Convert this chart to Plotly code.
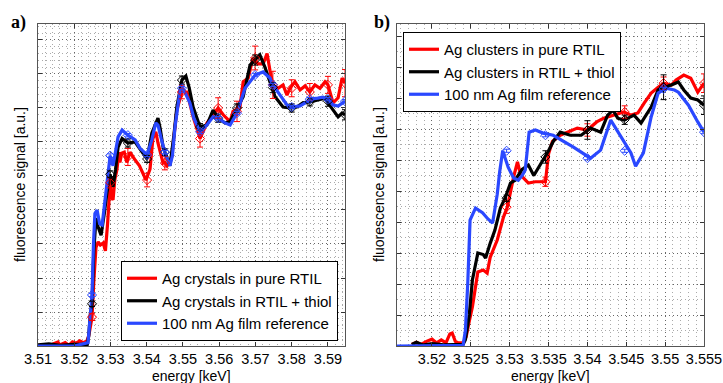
import plotly.graph_objects as go

# ---------------- Panel a) data ----------------
a_blue_e = [3.5100, 3.5200, 3.5238, 3.5243, 3.5249, 3.5253, 3.5257, 3.5263, 3.5270, 3.5277, 3.5285, 3.5290,
            3.5299, 3.5307, 3.5315, 3.5321, 3.5332, 3.5348, 3.5368, 3.5381, 3.5401, 3.5414, 3.5425, 3.5431,
            3.5440, 3.5450, 3.5464, 3.5471, 3.5478, 3.5492, 3.5500, 3.5519, 3.5530, 3.5547, 3.5566, 3.5583,
            3.5597, 3.5616, 3.5630, 3.5649, 3.5671, 3.5699, 3.5721, 3.5740, 3.5748, 3.5768, 3.5787, 3.5801,
            3.5823, 3.5837, 3.5850, 3.5872, 3.5886, 3.5900, 3.5914, 3.5928, 3.5947]
a_blue_v = [0.0, 0.0, 0.1, 0.8, 1.5, 3.0, 3.9, 4.0, 3.6, 3.56, 4.3, 4.8,
            5.6, 5.3, 5.75, 6.15, 6.35, 6.2, 6.06, 5.82, 5.62, 6.06, 6.56, 6.5,
            6.1, 5.7, 5.3, 5.6, 6.44, 7.53, 7.58, 7.15, 6.7, 6.3, 6.5, 6.74,
            6.7, 6.56, 6.5, 6.85, 7.58, 7.97, 8.06, 7.88, 7.68, 7.38, 7.09, 7.03,
            7.06, 7.15, 7.26, 7.29, 7.32, 7.26, 7.09, 7.06, 7.2]

a_black_e = [3.5100, 3.5130, 3.5160, 3.5200, 3.5236, 3.5240, 3.5244, 3.5249, 3.5254, 3.5260, 3.5266, 3.5274,
             3.5283, 3.5290, 3.5299, 3.5307, 3.5314, 3.5321, 3.5332, 3.5348, 3.5368, 3.5381, 3.5401, 3.5414,
             3.5431, 3.5437, 3.5445, 3.5450, 3.5464, 3.5475, 3.5483, 3.5497, 3.5508, 3.5517, 3.5528, 3.5547,
             3.5566, 3.5583, 3.5597, 3.5616, 3.5630, 3.5649, 3.5666, 3.5685, 3.5699, 3.5712, 3.5726, 3.5740,
             3.5754, 3.5776, 3.5795, 3.5814, 3.5831, 3.5850, 3.5872, 3.5892, 3.5900, 3.5914, 3.5928, 3.5939,
             3.5947]
a_black_v = [0.03, 0.06, 0.02, 0.05, 0.05, 0.3, 0.9, 1.24, 2.8, 3.76, 3.5, 3.26,
             3.9, 4.5, 5.05, 4.68, 5.2, 5.85, 6.1, 5.97, 6.0, 5.8, 5.5, 6.26,
             6.7, 6.4, 5.85, 5.7, 5.3, 6.2, 7.03, 7.82, 7.94, 7.6, 7.03, 6.44,
             6.5, 6.94, 6.7, 6.56, 6.6, 7.0, 7.33, 8.26, 8.41, 8.56, 8.2, 7.77,
             7.33, 7.03, 7.0, 7.03, 7.15, 7.18, 7.24, 7.29, 7.15, 6.94, 6.74, 6.85,
             6.8]

a_red_e = [3.5100, 3.5140, 3.5155, 3.5160, 3.5175, 3.5185, 3.5195, 3.5205, 3.5215, 3.5225, 3.5235, 3.5240,
           3.5245, 3.5249, 3.5254, 3.5260, 3.5266, 3.5272, 3.5280, 3.5286, 3.5292, 3.5299, 3.5303, 3.5307,
           3.5312, 3.5318, 3.5323, 3.5326, 3.5331, 3.5338, 3.5345, 3.5354, 3.5368, 3.5380, 3.5398, 3.5409,
           3.5417, 3.5425, 3.5431, 3.5445, 3.5450, 3.5456, 3.5469, 3.5483, 3.5497, 3.5511, 3.5528, 3.5547,
           3.5566, 3.5597, 3.5611, 3.5630, 3.5638, 3.5657, 3.5666, 3.5680, 3.5693, 3.5707, 3.5721, 3.5732,
           3.5740, 3.5748, 3.5762, 3.5776, 3.5787, 3.5795, 3.5809, 3.5823, 3.5837, 3.5850, 3.5864, 3.5878,
           3.5892, 3.5900, 3.5914, 3.5928, 3.5939, 3.5947]
a_red_v = [0.0, 0.05, 0.12, 0.03, 0.1, 0.02, 0.12, 0.08, 0.15, 0.1, 0.15, 0.3,
           0.6, 0.85, 1.9, 2.9, 3.06, 2.97, 3.03, 2.8, 3.6, 4.8, 4.35, 4.3,
           4.9, 5.2, 5.7, 5.4, 5.67, 5.7, 5.4, 5.7, 5.47, 5.3, 4.88, 5.2,
           6.1, 6.3, 5.97, 5.38, 5.4, 5.3, 5.56, 6.94, 7.47, 7.47, 6.74, 6.1,
           6.56, 7.0, 6.8, 6.6, 6.9, 7.0, 7.77, 7.88, 8.47, 8.3, 8.3, 8.6,
           8.1, 7.68, 7.58, 7.68, 7.38, 7.58, 7.77, 7.53, 7.65, 7.47, 7.68, 7.58,
           7.77, 7.68, 7.15, 7.3, 7.88, 7.73]

a_mark_e = [3.5249, 3.5299, 3.5348, 3.5401, 3.5450, 3.5497, 3.5547, 3.5597, 3.5649, 3.5699, 3.5748, 3.5800,
            3.5850, 3.5900, 3.5947]
a_mark_red = [0.85, 4.8, 5.56, 4.88, 5.38, 7.47, 6.1, 7.0, 6.9, 8.47, 7.68, 7.58, 7.47, 7.68, 7.73]
a_err_red = [0.1, 0.15, 0.25, 0.2, 0.2, 0.2, 0.25, 0.3, 0.3, 0.35, 0.4, 0.25, 0.25, 0.25, 0.4]
a_mark_black = [1.24, 5.05, 5.97, 5.5, 5.7, 7.82, 6.44, 6.7, 7.0, 8.41, 7.6, 7.0, 7.18, 7.2, 6.8]
a_err_black = [0.08, 0.1, 0.12, 0.1, 0.1, 0.12, 0.1, 0.12, 0.12, 0.15, 0.15, 0.12, 0.12, 0.15, 0.15]
a_mark_blue = [1.5, 5.6, 6.2, 5.62, 5.7, 7.58, 6.3, 6.7, 6.85, 7.97, 7.68, 7.03, 7.26, 7.26, 7.2]
a_err_blue = [0.05] * 15

a_xticks = [3.51, 3.52, 3.53, 3.54, 3.55, 3.56, 3.57, 3.58, 3.59]
a_xticktext = ["3.51", "3.52", "3.53", "3.54", "3.55", "3.56", "3.57", "3.58", "3.59"]
a_names = ["Ag crystals in pure RTIL", "Ag crystals in RTIL + thiol", "100 nm Ag film reference"]

# ---------------- Panel b) data ----------------
b_blue_e = [3.5155, 3.5200, 3.5240, 3.5243, 3.5246, 3.5249, 3.5256, 3.5265, 3.5272, 3.5278, 3.5284, 3.5287,
            3.5291, 3.5298, 3.5305, 3.5311, 3.5316, 3.5320, 3.5323, 3.5325, 3.5333, 3.5343, 3.5356, 3.5382,
            3.5404, 3.5417, 3.5430, 3.5443, 3.5456, 3.5462, 3.5472, 3.5482, 3.5491, 3.5501, 3.5512, 3.5517,
            3.5530, 3.5542, 3.5550]
b_blue_v = [0.0, 0.0, 0.02, 0.5, 2.0, 4.06, 4.45, 4.3, 4.1, 3.97, 4.9, 5.6,
            6.3, 5.77, 5.42, 5.35, 5.5, 5.68, 6.32, 6.9, 6.97, 6.87, 6.8, 6.42,
            6.06, 6.32, 7.29, 6.74, 6.23, 5.8, 6.23, 7.39, 8.16, 8.32, 8.26, 8.19,
            7.77, 7.23, 6.9]

b_black_e = [3.5174, 3.5180, 3.5188, 3.5200, 3.5215, 3.5230, 3.5240, 3.5243, 3.5248, 3.5252, 3.5259, 3.5266,
             3.5269, 3.5275, 3.5281, 3.5288, 3.5294, 3.5301, 3.5307, 3.5316, 3.5324, 3.5331, 3.5343, 3.5350,
             3.5356, 3.5365, 3.5378, 3.5392, 3.5404, 3.5417, 3.5426, 3.5433, 3.5439, 3.5447, 3.5460, 3.5469,
             3.5482, 3.5491, 3.5498, 3.5508, 3.5517, 3.5524, 3.5533, 3.5542, 3.5550]
b_black_v = [0.05, 0.12, 0.03, 0.08, 0.04, 0.06, 0.05, 0.2, 1.0, 2.13, 3.0, 2.95,
             2.84, 3.32, 3.74, 4.45, 4.77, 5.26, 5.35, 5.7, 5.84, 5.5, 6.0, 6.3,
             6.6, 6.9, 6.8, 6.8, 7.03, 6.9, 7.45, 7.61, 7.35, 7.29, 7.45, 7.19,
             7.71, 8.26, 8.35, 8.42, 8.52, 8.26, 8.0, 7.94, 7.77]

b_red_e = [3.5174, 3.5180, 3.5186, 3.5193, 3.5200, 3.5206, 3.5212, 3.5218, 3.5223, 3.5226, 3.5230, 3.5234,
           3.5240, 3.5244, 3.5248, 3.5252, 3.5256, 3.5259, 3.5266, 3.5271, 3.5275, 3.5284, 3.5292, 3.5297,
           3.5305, 3.5310, 3.5314, 3.5324, 3.5333, 3.5343, 3.5346, 3.5350, 3.5355, 3.5365, 3.5387, 3.5400,
           3.5412, 3.5421, 3.5434, 3.5443, 3.5447, 3.5456, 3.5465, 3.5473, 3.5482, 3.5491, 3.5498, 3.5508,
           3.5514, 3.5524, 3.5533, 3.5542, 3.5550]
b_red_v = [0.05, 0.12, 0.05, 0.15, 0.22, 0.1, 0.2, 0.1, 0.39, 0.42, 0.15, 0.1,
           0.1, 0.3, 0.8, 1.26, 1.9, 2.39, 2.45, 2.35, 2.87, 3.42, 4.16, 4.48,
           5.45, 5.94, 5.52, 5.26, 5.3, 5.3, 5.3, 6.2, 6.6, 6.8, 7.03, 6.97,
           7.23, 7.35, 7.45, 7.52, 7.55, 7.45, 7.52, 7.84, 8.16, 8.35, 8.48, 8.42,
           8.58, 8.74, 8.64, 8.19, 8.48]

b_mark_e = [3.5296, 3.5346, 3.5400, 3.5448, 3.5498, 3.5550]
b_mark_red = [4.48, 5.3, 6.97, 7.55, 8.48, 8.48]
b_err_red = [0.2, 0.15, 0.2, 0.2, 0.2, 0.3]
b_mark_black = [4.77, 6.1, 6.97, 7.3, 8.35, 7.77]
b_err_black = [0.1, 0.2, 0.3, 0.15, 0.4, 0.3]
b_mark_blue = [6.3, 6.8, 6.06, 6.3, 8.3, 6.9]
b_err_blue = [0.05] * 6

b_xticks = [3.52, 3.525, 3.53, 3.535, 3.54, 3.545, 3.55, 3.555]
b_xticktext = ["3.52", "3.525", "3.53", "3.535", "3.54", "3.545", "3.55", "3.555"]
b_names = ["Ag clusters in pure RTIL", "Ag clusters in RTIL + thiol", "100 nm Ag film reference"]

# ---------------- styling ----------------
RED, BLACK, BLUE = "#ff0000", "#000000", "#2a48ff"
W, H = 723, 383
FONT = "Liberation Sans, Arial, Helvetica, sans-serif"

fig = go.Figure()

def add_panel(xa, ya, leg, series, marks, names):
    for (e, v), name, col in zip(series, names, [RED, BLACK, BLUE]):
        fig.add_trace(go.Scatter(x=e, y=v, mode="lines", name=name, xaxis=xa, yaxis=ya, legend=leg,
                                 line=dict(color=col, width=3.2)))
    for (mv, me), col in zip(marks[1], [RED, BLACK, BLUE]):
        fig.add_trace(go.Scatter(x=marks[0], y=mv, mode="markers", showlegend=False, xaxis=xa, yaxis=ya,
                                 marker=dict(symbol="diamond-open", size=7, color=col, line=dict(width=1, color=col)),
                                 error_y=dict(type="data", array=me, color=col, thickness=1, width=3)))

add_panel("x", "y", "legend",
          [(a_red_e, a_red_v), (a_black_e, a_black_v), (a_blue_e, a_blue_v)],
          (a_mark_e, [(a_mark_red, a_err_red), (a_mark_black, a_err_black), (a_mark_blue, a_err_blue)]),
          a_names)
add_panel("x2", "y2", "legend2",
          [(b_red_e, b_red_v), (b_black_e, b_black_v), (b_blue_e, b_blue_v)],
          (b_mark_e, [(b_mark_red, b_err_red), (b_mark_black, b_err_black), (b_mark_blue, b_err_blue)]),
          b_names)

def px_x(p):
    return p / W

def px_y(p):
    return 1 - p / H

top, bottom = 24, 346
common_axis = dict(showline=True, linecolor="#555", linewidth=1, mirror="ticks", ticks="inside",
                   ticklen=4, tickcolor="#333", zeroline=False, autorange=False,
                   showgrid=True, gridcolor="#666", griddash="1px,3px", gridwidth=1,
                   tickfont=dict(family=FONT, size=14.5, color="#000"))

fig.update_layout(
    width=W, height=H, margin=dict(l=0, r=0, t=0, b=0, autoexpand=False),
    paper_bgcolor="white", plot_bgcolor="white",
    xaxis=dict(domain=[px_x(38), px_x(345)], range=[3.51, 3.5947], tickvals=a_xticks, ticktext=a_xticktext,
               anchor="y", minor=dict(dtick=0.002, tick0=3.51, showgrid=True, gridcolor="#aaa", griddash="1px,3px"),
               **common_axis),
    yaxis=dict(domain=[px_y(bottom), px_y(top)], range=[0, 9.47], dtick=1, showticklabels=False, anchor="x",
               minor=dict(dtick=0.2, showgrid=True, gridcolor="#aaa", griddash="1px,3px"),
               **common_axis),
    xaxis2=dict(domain=[px_x(397), px_x(704)], range=[3.5155, 3.555], tickvals=b_xticks, ticktext=b_xticktext,
                anchor="y2", minor=dict(dtick=0.001, tick0=3.52, showgrid=True, gridcolor="#aaa", griddash="1px,3px"),
                **common_axis),
    yaxis2=dict(domain=[px_y(bottom), px_y(top)], range=[0, 10.39], dtick=1, showticklabels=False, anchor="x2",
                minor=dict(dtick=0.5, showgrid=True, gridcolor="#aaa", griddash="1px,3px"),
                **common_axis),
    legend=dict(x=px_x(121), y=px_y(341), xanchor="left", yanchor="bottom", bgcolor="white",
                bordercolor="#000", borderwidth=1, font=dict(family=FONT, size=15, color="#000"),
                tracegroupgap=0),
    legend2=dict(x=px_x(403), y=px_y(32), xanchor="left", yanchor="top", bgcolor="white",
                 bordercolor="#000", borderwidth=1, font=dict(family=FONT, size=15, color="#000"),
                 tracegroupgap=0),
    showlegend=True,
)

ann_font = dict(family=FONT, size=14, color="#000")
label_font = dict(family="Liberation Serif, Times New Roman, serif", size=18, color="#000")
annotations = [
    dict(text="<b>a)</b>", x=px_x(18), y=px_y(23), showarrow=False, font=label_font),
    dict(text="<b>b)</b>", x=px_x(382), y=px_y(23), showarrow=False, font=label_font),
    dict(text="energy [keV]", x=px_x((38 + 345) / 2), y=px_y(376), showarrow=False, font=ann_font),
    dict(text="energy [keV]", x=px_x((397 + 704) / 2), y=px_y(376), showarrow=False, font=ann_font),
    dict(text="fluorescence signal [a.u.]", x=px_x(20), y=px_y(185), textangle=-90, showarrow=False, font=ann_font),
    dict(text="fluorescence signal [a.u.]", x=px_x(379), y=px_y(185), textangle=-90, showarrow=False, font=ann_font),
]
for a in annotations:
    a.update(xref="paper", yref="paper", xanchor="center", yanchor="middle")
fig.update_layout(annotations=annotations)

fig.write_html("out.html", config={"displayModeBar": False, "responsive": False},
               post_script="document.body.style.margin='0';document.body.style.overflow='hidden';")
